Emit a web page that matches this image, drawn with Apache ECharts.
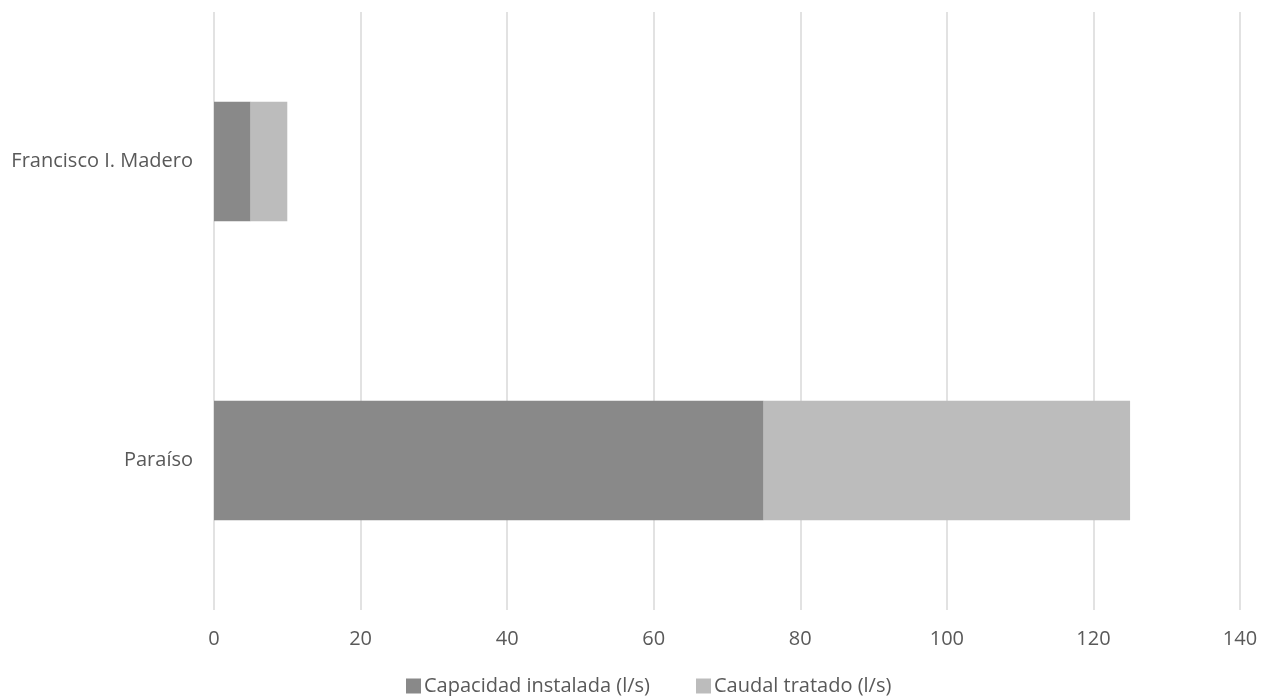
<!DOCTYPE html>
<html><head><meta charset="utf-8">
<script src="https://cdn.jsdelivr.net/npm/echarts@6/dist/echarts.min.js"></script>
<style>html,body{margin:0;padding:0;background:#fff}#c{width:1261px;height:696px}</style>
</head><body><div id="c"></div>
<script>
const categories = ['Paraíso', 'Francisco I. Madero'];
const capacidadInstalada = [75, 5];
const caudalTratado = [50, 5];
const seriesNames = ['Capacidad instalada (l/s)', 'Caudal tratado (l/s)'];

const chart = echarts.init(document.getElementById('c'));
const font = '"Open Sans", "Noto Sans", sans-serif';
chart.setOption({
  animation: false,
  textStyle: { fontFamily: font },
  grid: { left: 214, right: 21, top: 12, bottom: 86, containLabel: false },
  legend: {
    top: 676, left: 406, itemWidth: 15, itemHeight: 15, itemGap: 46,
    icon: 'rect', padding: 0,
    textStyle: { color: '#595959', fontSize: 20, fontFamily: font, padding: [0, 0, 0, -2] },
    data: seriesNames
  },
  xAxis: {
    type: 'value', min: 0, max: 140, interval: 20,
    axisLine: { show: false }, axisTick: { show: false },
    splitLine: { lineStyle: { color: '#d9d9d9', width: 1.5 } },
    axisLabel: { color: '#595959', fontSize: 20, margin: 19, fontFamily: font }
  },
  yAxis: {
    type: 'category', data: categories,
    axisLine: { show: false }, axisTick: { show: false },
    axisLabel: { color: '#595959', fontSize: 20, margin: 21, fontFamily: font }
  },
  series: [
    { name: seriesNames[0], type: 'bar', stack: 't', data: capacidadInstalada, barCategoryGap: '60%', itemStyle: { color: '#898989' } },
    { name: seriesNames[1], type: 'bar', stack: 't', data: caudalTratado, barCategoryGap: '60%', itemStyle: { color: '#bcbcbc' } }
  ]
});
</script></body></html>
